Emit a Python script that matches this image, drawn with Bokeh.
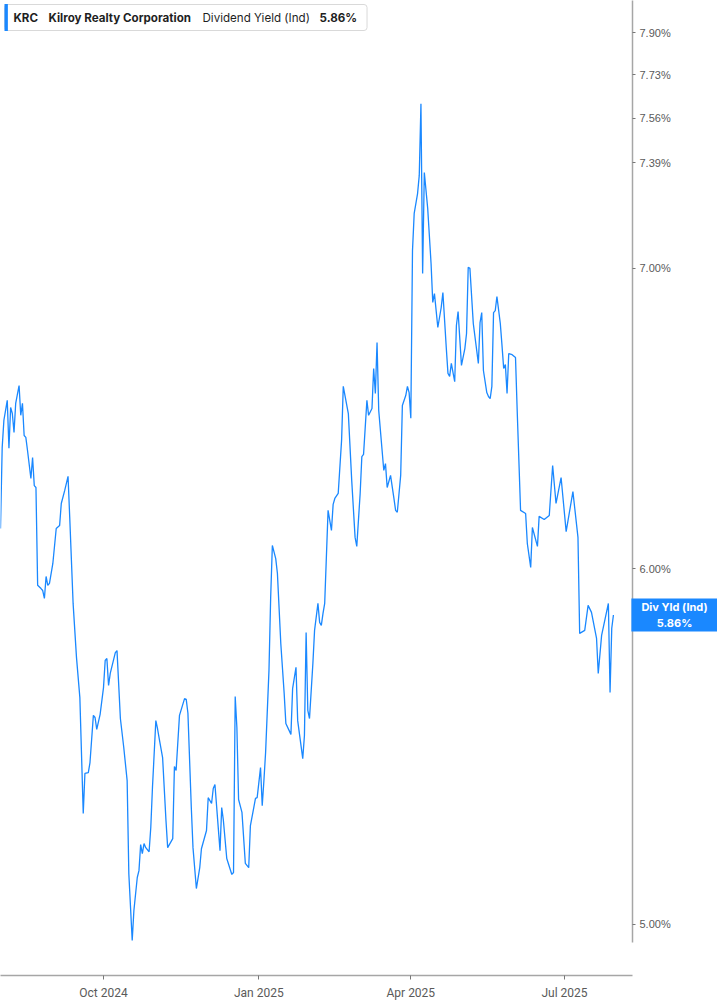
from datetime import datetime
import pandas as pd
from bokeh.plotting import figure
from bokeh.models import (ColumnDataSource, Range1d, FixedTicker,
                          CustomJSTickFormatter, Label)
from bokeh.embed import file_html
from bokeh.resources import INLINE

# ---------------- data ----------------
ticker_symbol = "KRC"
company_name = "Kilroy Realty Corporation"
metric_name = "Dividend Yield (Ind)"
badge_name = "Div Yld (Ind)"

dates = [
    "2024-08-01", "2024-08-02", "2024-08-03", "2024-08-05", "2024-08-06", "2024-08-07", "2024-08-08", "2024-08-09",
    "2024-08-10", "2024-08-12", "2024-08-13", "2024-08-14", "2024-08-15", "2024-08-16", "2024-08-17", "2024-08-19",
    "2024-08-20", "2024-08-21", "2024-08-22", "2024-08-23", "2024-08-25", "2024-08-26", "2024-08-27", "2024-08-28",
    "2024-08-29", "2024-08-30", "2024-09-01", "2024-09-03", "2024-09-05", "2024-09-06", "2024-09-08", "2024-09-10",
    "2024-09-11", "2024-09-13", "2024-09-15", "2024-09-17", "2024-09-19", "2024-09-20", "2024-09-22", "2024-09-23",
    "2024-09-25", "2024-09-26", "2024-09-27", "2024-09-29", "2024-10-01", "2024-10-02", "2024-10-03", "2024-10-04",
    "2024-10-05", "2024-10-08", "2024-10-09", "2024-10-11", "2024-10-13", "2024-10-15", "2024-10-16", "2024-10-18",
    "2024-10-19", "2024-10-21", "2024-10-22", "2024-10-23", "2024-10-24", "2024-10-25", "2024-10-26", "2024-10-28",
    "2024-10-29", "2024-10-30", "2024-11-01", "2024-11-02", "2024-11-03", "2024-11-05", "2024-11-07", "2024-11-08",
    "2024-11-11", "2024-11-12", "2024-11-13", "2024-11-15", "2024-11-18", "2024-11-19", "2024-11-20", "2024-11-22",
    "2024-11-23", "2024-11-25", "2024-11-27", "2024-11-28", "2024-12-01", "2024-12-02", "2024-12-04", "2024-12-05",
    "2024-12-06", "2024-12-09", "2024-12-10", "2024-12-11", "2024-12-13", "2024-12-16", "2024-12-17", "2024-12-18",
    "2024-12-19", "2024-12-20", "2024-12-22", "2024-12-24", "2024-12-26", "2024-12-27", "2024-12-29", "2024-12-30",
    "2024-12-31", "2025-01-02", "2025-01-03", "2025-01-04", "2025-01-05", "2025-01-07", "2025-01-08", "2025-01-09",
    "2025-01-11", "2025-01-12", "2025-01-14", "2025-01-16", "2025-01-17", "2025-01-20", "2025-01-21", "2025-01-23",
    "2025-01-24", "2025-01-27", "2025-01-28", "2025-01-29", "2025-01-30", "2025-01-31", "2025-02-02", "2025-02-03",
    "2025-02-05", "2025-02-06", "2025-02-07", "2025-02-08", "2025-02-09", "2025-02-11", "2025-02-13", "2025-02-14",
    "2025-02-15", "2025-02-17", "2025-02-19", "2025-02-20", "2025-02-23", "2025-02-25", "2025-02-27", "2025-02-28",
    "2025-03-02", "2025-03-03", "2025-03-04", "2025-03-06", "2025-03-07", "2025-03-09", "2025-03-10", "2025-03-11",
    "2025-03-12", "2025-03-13", "2025-03-16", "2025-03-17", "2025-03-18", "2025-03-20", "2025-03-22", "2025-03-23",
    "2025-03-24", "2025-03-26", "2025-03-27", "2025-03-29", "2025-03-30", "2025-03-31", "2025-04-01", "2025-04-02",
    "2025-04-03", "2025-04-05", "2025-04-06", "2025-04-07", "2025-04-08", "2025-04-09", "2025-04-11", "2025-04-13",
    "2025-04-14", "2025-04-15", "2025-04-17", "2025-04-19", "2025-04-20", "2025-04-22", "2025-04-23", "2025-04-24",
    "2025-04-25", "2025-04-26", "2025-04-27", "2025-04-28", "2025-04-29", "2025-05-01", "2025-05-03", "2025-05-04",
    "2025-05-05", "2025-05-06", "2025-05-08", "2025-05-11", "2025-05-12", "2025-05-13", "2025-05-14", "2025-05-16",
    "2025-05-17", "2025-05-18", "2025-05-19", "2025-05-20", "2025-05-21", "2025-05-22", "2025-05-24", "2025-05-25",
    "2025-05-26", "2025-05-27", "2025-05-28", "2025-05-29", "2025-05-31", "2025-06-02", "2025-06-03", "2025-06-04",
    "2025-06-05", "2025-06-08", "2025-06-09", "2025-06-11", "2025-06-12", "2025-06-15", "2025-06-16", "2025-06-19",
    "2025-06-22", "2025-06-24", "2025-06-26", "2025-06-29", "2025-07-02", "2025-07-06", "2025-07-09", "2025-07-10",
    "2025-07-13", "2025-07-15", "2025-07-17", "2025-07-20", "2025-07-21", "2025-07-23", "2025-07-27", "2025-07-28",
    "2025-07-29", "2025-07-30",
]

dividend_yield = [
    6.126, 6.386, 6.475, 6.542, 6.383, 6.518, 6.498, 6.435,
    6.532, 6.592, 6.492, 6.532, 6.425, 6.419, 6.376, 6.285,
    6.353, 6.262, 6.256, 5.950, 5.940, 5.934, 5.910, 5.977,
    5.950, 5.956, 6.017, 6.126, 6.135, 6.205, 6.246, 6.292,
    6.161, 5.895, 5.734, 5.617, 5.293, 5.403, 5.405, 5.433,
    5.566, 5.560, 5.526, 5.569, 5.646, 5.725, 5.731, 5.652,
    5.687, 5.748, 5.754, 5.557, 5.475, 5.383, 5.132, 4.959,
    5.036, 5.122, 5.140, 5.209, 5.185, 5.212, 5.201, 5.190,
    5.255, 5.364, 5.551, 5.528, 5.500, 5.447, 5.274, 5.201,
    5.225, 5.422, 5.411, 5.566, 5.614, 5.612, 5.572, 5.309,
    5.201, 5.093, 5.148, 5.198, 5.247, 5.336, 5.320, 5.361,
    5.372, 5.193, 5.309, 5.274, 5.172, 5.130, 5.135, 5.620,
    5.531, 5.331, 5.296, 5.159, 5.148, 5.260, 5.309, 5.334,
    5.336, 5.419, 5.314, 5.383, 5.461, 5.696, 5.913, 6.073,
    6.032, 5.986, 5.775, 5.629, 5.543, 5.512, 5.643, 5.705,
    5.551, 5.444, 5.509, 5.808, 5.580, 5.557, 5.716, 5.814,
    5.895, 5.838, 5.829, 5.865, 5.895, 6.183, 6.120, 6.202,
    6.221, 6.237, 6.409, 6.589, 6.498, 6.279, 6.098, 6.070,
    6.237, 6.356, 6.363, 6.542, 6.492, 6.515, 6.650, 6.565,
    6.739, 6.508, 6.311, 6.333, 6.256, 6.295, 6.221, 6.183,
    6.177, 6.295, 6.525, 6.558, 6.589, 6.568, 6.482, 7.065,
    7.200, 7.274, 7.342, 7.617, 6.982, 7.353, 7.219, 7.017,
    6.879, 6.910, 6.791, 6.861, 6.914, 6.721, 6.633, 6.623,
    6.667, 6.636, 6.605, 6.798, 6.847, 6.660, 6.718, 6.770,
    7.004, 7.000, 6.805, 6.667, 6.808, 6.843, 6.643, 6.568,
    6.555, 6.548, 6.589, 6.843, 6.850, 6.900, 6.805, 6.729,
    6.650, 6.663, 6.565, 6.701, 6.697, 6.687, 6.508, 6.343,
    6.183, 6.173, 6.079, 6.005, 6.129, 6.070, 6.164, 6.154,
    6.167, 6.327, 6.205, 6.288, 6.116, 6.243, 6.098, 5.805,
    5.814, 5.889, 5.868, 5.790, 5.687, 5.799, 5.895, 5.632,
    5.820, 5.860,
]

y_ticks = [5.00, 6.00, 7.00, 7.39, 7.56, 7.73, 7.90]
x_tick_dates = ["2024-10-01", "2025-01-01", "2025-04-01", "2025-07-01"]
x_tick_labels = ["Oct 2024", "Jan 2025", "Apr 2025", "Jul 2025"]

x_start = datetime(2024, 8, 1)
x_end = datetime(2025, 8, 10, 7)
y_start = 4.954
y_end = 8.031

# ---------------- styling ----------------
LINE_BLUE = "#1a88ff"
AXIS_GRAY = "#a6a6a6"
LABEL_GRAY = "#5a5a5a"
BADGE_ROW = 28

src = ColumnDataSource(dict(date=pd.to_datetime(dates), yld=dividend_yield))

p = figure(width=717, height=1005, x_axis_type="datetime", y_axis_type="log",
           y_axis_location="right", output_backend="svg", toolbar_location=None,
           x_range=Range1d(x_start, x_end), y_range=Range1d(y_start, y_end),
           min_border_left=0, min_border_top=0, min_border_right=85,
           min_border_bottom=35 + BADGE_ROW)
p.outline_line_color = None
p.xgrid.visible = False
p.ygrid.visible = False
p.background_fill_color = "white"
p.border_fill_color = "white"

p.line("date", "yld", source=src, line_color=LINE_BLUE, line_width=1.3)

# y axis (right)
ya = p.yaxis[0]
ya.ticker = FixedTicker(ticks=y_ticks)
ya.formatter = CustomJSTickFormatter(code="return tick.toFixed(2) + '%';")
ya.axis_line_color = AXIS_GRAY
ya.axis_line_width = 1.5
ya.major_tick_line_color = "#777777"
ya.major_tick_out = 3
ya.major_tick_in = 0
ya.minor_tick_line_color = None
ya.major_label_text_color = LABEL_GRAY
ya.major_label_text_font = "Liberation Sans"
ya.major_label_text_font_size = "11px"
ya.major_label_standoff = 4

# x axis (bottom)
tick_ms = [pd.Timestamp(d).value / 1e6 for d in x_tick_dates]
xa = p.xaxis[0]
xa.ticker = FixedTicker(ticks=tick_ms)
xa.formatter = CustomJSTickFormatter(args=dict(tvals=tick_ms, tlabels=x_tick_labels), code="""
let best = 0;
for (let i = 0; i < tvals.length; i++) {
  if (Math.abs(tvals[i] - tick) < Math.abs(tvals[best] - tick)) best = i;
}
return tlabels[best];
""")
xa.axis_line_color = AXIS_GRAY
xa.axis_line_width = 1.5
xa.major_tick_line_color = "#777777"
xa.major_tick_out = 4
xa.major_tick_in = 0
xa.minor_tick_line_color = None
xa.major_label_text_color = LABEL_GRAY
xa.major_label_text_font = "Roboto"
xa.major_label_text_font_size = "12px"
xa.major_label_standoff = 6

last_val = dividend_yield[-1]

# last-value badge: lives in a side panel (so it is not clipped to the frame),
# positioned through the data scales
badge = Label(x=x_end, y=last_val, x_offset=42, text=f"{badge_name}\n{last_val:.2f}%",
              text_align="center", text_baseline="middle", text_font="Inter",
              text_font_size="11px", text_font_style="bold", text_color="white",
              text_line_height=1.2,
              background_fill_color=LINE_BLUE, padding=(10, 1))
p.below = [badge, xa]

# header box
p.add_layout(Label(x=x_start, y=y_end, x_offset=4, y_offset=-17, text=ticker_symbol,
                   text_align="left", text_baseline="middle", text_font="Inter",
                   text_font_size="11.6px", text_font_style="bold", text_color="#1f1f1f",
                   background_fill_color="white", border_line_color="#d9d9d9",
                   border_line_width=1, border_radius=3,
                   padding=dict(left=9, right=329, top=6, bottom=6)))
p.add_layout(Label(x=x_start, y=y_end, x_offset=4, y_offset=-17, text=" ",
                   text_align="left", text_baseline="middle", text_font="Inter",
                   text_font_size="12px", background_fill_color=LINE_BLUE,
                   padding=dict(left=0, right=0, top=6, bottom=6)))
parts = [(company_name, 48, "bold"), (metric_name, 202, "normal"),
         (f"{last_val:.2f}%", 319, "bold")]
for txt, off, style in parts:
    p.add_layout(Label(x=x_start, y=y_end, x_offset=off, y_offset=-17, text=txt,
                       text_align="left", text_baseline="middle", text_font="Inter",
                       text_font_size="11.6px", text_font_style=style,
                       text_color="#1f1f1f"))

open("out.html", "w").write(file_html(p, INLINE))
